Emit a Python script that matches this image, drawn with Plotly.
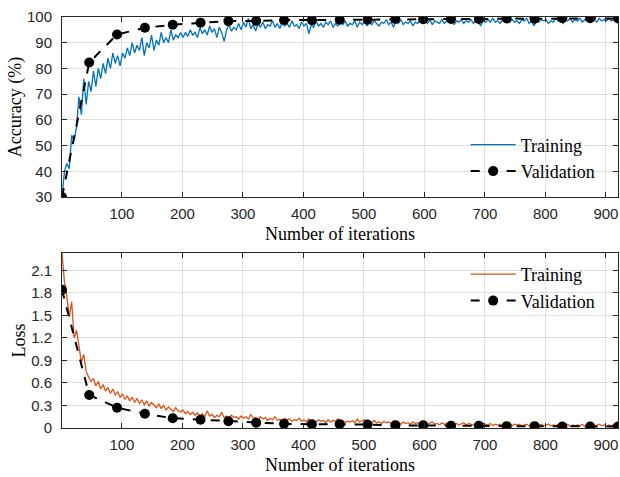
import plotly.graph_objects as go

# ---- data ----
train_acc = [
    30, 40, 43, 41, 54, 52, 57, 69, 62, 76, 66, 75, 71, 79, 73, 80, 76, 82, 78, 84, 80, 86, 82, 85, 81,
    86, 84, 88, 85, 90, 86, 89, 87, 92, 85, 90, 88, 93, 87, 91, 89, 94, 90, 92, 90, 95, 91, 93, 92, 94,
    92, 94, 92.5, 95, 93, 94, 92, 96, 93.5, 95, 93, 96.5, 94, 95.5, 92, 96, 94, 90.5, 95, 97, 94.5, 96, 95, 97.5, 95,
    98, 96, 99.5, 95.5, 97, 94.5, 97.5, 96, 98, 95.5, 97, 96.5, 98.5, 96, 97.5, 95.5, 98, 96.5, 97.5, 96, 98.5, 96.5, 97, 95.5, 98,
    96.5, 97.5, 93.5, 97, 96, 98.5, 96.5, 97.5, 96, 98, 97, 98.5, 96, 97.5, 96.5, 98, 97, 98.5, 96.5, 97.5, 97, 98.5, 96, 98, 97,
    98.5, 96.5, 98, 97, 98.5, 97.5, 96.5, 98, 97.5, 99, 97, 98, 96, 98.5, 97.5, 99, 97, 98, 97.5, 98.5, 96.5, 98, 97.5, 99, 97.5,
    98.5, 97.5, 99, 97, 98.5, 98, 97.5, 99, 97.5, 98.5, 98, 99, 97, 98.5, 98, 99, 97.5, 98.5, 98, 99, 97.5, 98.5, 98, 96.5, 98.5,
    98, 99, 98, 99.5, 98, 98.5, 97.5, 99, 98.5, 99.5, 98, 99, 98, 98.5, 97.5, 99, 98.5, 99.5, 97.5, 98.5, 96.5, 98.5, 98, 99, 98.5,
    99, 97.5, 98.5, 98, 99.5, 98.5, 99, 97.5, 99, 98.5, 99.5, 98, 99, 98.5, 99.5, 98, 99, 98.5, 99.5, 98.5, 99, 98, 99.5, 98.5, 99,
    98.5, 99.5, 98.5, 99, 99.5,
]
train_loss = [
    2.33, 1.95, 1.75, 1.48, 1.68, 1.2, 1.3, 1.08, 0.88, 0.98, 0.75, 0.68, 0.62, 0.66, 0.56, 0.62, 0.52, 0.58, 0.49, 0.54, 0.46, 0.52, 0.44, 0.48, 0.41,
    0.45, 0.38, 0.43, 0.36, 0.41, 0.34, 0.39, 0.33, 0.37, 0.31, 0.36, 0.29, 0.34, 0.3, 0.27, 0.32, 0.26, 0.3, 0.24, 0.28, 0.25, 0.22, 0.27, 0.23, 0.21,
    0.24, 0.19, 0.22, 0.18, 0.21, 0.17, 0.2, 0.16, 0.19, 0.15, 0.23, 0.16, 0.18, 0.14, 0.17, 0.15, 0.21, 0.14, 0.16, 0.13, 0.17, 0.14, 0.15, 0.12, 0.16,
    0.13, 0.15, 0.12, 0.18, 0.13, 0.14, 0.11, 0.15, 0.12, 0.14, 0.1, 0.13, 0.11, 0.15, 0.1, 0.12, 0.09, 0.13, 0.11, 0.12, 0.09, 0.11, 0.1, 0.13, 0.09,
    0.11, 0.08, 0.12, 0.09, 0.1, 0.08, 0.11, 0.09, 0.1, 0.07, 0.11, 0.08, 0.1, 0.09, 0.12, 0.08, 0.1, 0.07, 0.09, 0.08, 0.1, 0.07, 0.12, 0.08, 0.09,
    0.11, 0.08, 0.09, 0.07, 0.1, 0.07, 0.08, 0.06, 0.09, 0.07, 0.08, 0.06, 0.09, 0.07, 0.08, 0.05, 0.08, 0.06, 0.07, 0.05, 0.08, 0.06, 0.07, 0.05, 0.06,
    0.07, 0.05, 0.06, 0.08, 0.05, 0.06, 0.04, 0.07, 0.05, 0.06, 0.04, 0.07, 0.05, 0.06, 0.04, 0.05, 0.07, 0.04, 0.06, 0.05, 0.04, 0.06, 0.05, 0.04, 0.06,
    0.05, 0.04, 0.06, 0.03, 0.05, 0.04, 0.05, 0.03, 0.05, 0.04, 0.06, 0.03, 0.05, 0.04, 0.05, 0.03, 0.04, 0.05, 0.03, 0.04, 0.06, 0.03, 0.04, 0.05, 0.03,
    0.04, 0.05, 0.03, 0.04, 0.03, 0.05, 0.03, 0.04, 0.03, 0.05, 0.02, 0.04, 0.03, 0.04, 0.03, 0.05, 0.02, 0.04, 0.03, 0.04, 0.02, 0.03, 0.05, 0.03, 0.04,
    0.02, 0.04, 0.03, 0.05, 0.03,
]
val_iter = [1, 46, 92, 138, 184, 230, 276, 322, 368, 414, 460, 506, 552, 598, 644, 690, 736, 782, 828, 874, 920]
val_acc = [30, 82.3, 93.2, 95.8, 97.0, 97.8, 98.4, 98.5, 98.8, 98.8, 98.9, 98.9, 99.2, 99.1, 99.2, 99.2, 99.4, 99.3, 99.5, 99.5, 99.4]
val_loss = [1.84, 0.44, 0.27, 0.19, 0.13, 0.11, 0.09, 0.07, 0.055, 0.05, 0.05, 0.045, 0.035, 0.035, 0.03, 0.03, 0.025, 0.025, 0.02, 0.02, 0.02]
x_ticks = [100, 200, 300, 400, 500, 600, 700, 800, 900]
acc_ticks = [30, 40, 50, 60, 70, 80, 90, 100]
loss_ticks = [0, 0.3, 0.6, 0.9, 1.2, 1.5, 1.8, 2.1]

step = 4
acc_iter = [1 + step * k for k in range(len(train_acc))]
loss_iter = [1 + step * k for k in range(len(train_loss))]

BLUE = "#0072BD"
ORANGE = "#D95319"
AX = "#262626"
GRID = "#dfdfdf"
SERIF = "Liberation Serif"
SANS = "Liberation Sans"

fig = go.Figure()
fig.add_trace(go.Scatter(x=acc_iter, y=train_acc, mode="lines", name="Training",
                         line=dict(color=BLUE, width=1.3), xaxis="x", yaxis="y", legend="legend"))
fig.add_trace(go.Scatter(x=val_iter, y=val_acc, mode="lines+markers", name="Validation",
                         line=dict(color="black", width=2, dash="dash"),
                         marker=dict(color="black", size=10), xaxis="x", yaxis="y", legend="legend"))
fig.add_trace(go.Scatter(x=loss_iter, y=train_loss, mode="lines", name="Training",
                         line=dict(color=ORANGE, width=1.3), xaxis="x2", yaxis="y2", legend="legend2"))
fig.add_trace(go.Scatter(x=val_iter, y=val_loss, mode="lines+markers", name="Validation",
                         line=dict(color="black", width=2, dash="dash"),
                         marker=dict(color="black", size=10), xaxis="x2", yaxis="y2", legend="legend2"))

common_axis = dict(showline=True, linecolor=AX, linewidth=1, mirror="ticks", ticks="inside",
                   ticklen=5, tickcolor=AX, showgrid=True, gridcolor=GRID, gridwidth=1, zeroline=False,
                   tickfont=dict(family=SANS, size=15, color=AX))

TITLE_FONT = dict(family=SERIF, size=18, color="black")
LEG_FONT = dict(family=SERIF, size=18, color="black")

xcommon = dict(common_axis, range=[1, 920], tickvals=x_ticks, ticklabelstandoff=3,
               title=dict(text="Number of iterations", font=TITLE_FONT, standoff=6))

fig.update_layout(
    width=620, height=477,
    margin=dict(l=62, r=2, t=17, b=49, autoexpand=False),
    paper_bgcolor="white", plot_bgcolor="white",
    xaxis=dict(xcommon, anchor="y", domain=[0, 1]),
    yaxis=dict(common_axis, range=[30, 100], tickvals=acc_ticks, domain=[0.562, 1], anchor="x",
               ticklabelstandoff=6,
               title=dict(text="Accuracy (%)", font=TITLE_FONT, standoff=0)),
    xaxis2=dict(xcommon, anchor="y2", domain=[0, 1]),
    yaxis2=dict(common_axis, range=[0, 2.33], tickvals=loss_ticks, domain=[0, 0.4258], anchor="x2",
                ticklabelstandoff=6,
                title=dict(text="Loss", font=TITLE_FONT, standoff=0)),
    legend=dict(x=0.726, y=0.7336, xanchor="left", yanchor="top", bgcolor="rgba(0,0,0,0)",
                font=LEG_FONT, itemwidth=45, tracegroupgap=0),
    legend2=dict(x=0.726, y=0.4185, xanchor="left", yanchor="top", bgcolor="rgba(0,0,0,0)",
                 font=LEG_FONT, itemwidth=45, tracegroupgap=0),
)

# remove the browser's default 8px page margin so the figure fills the 620x477 window exactly
fig.write_html("out.html", config={"displayModeBar": False},
               post_script="document.body.style.margin='0';document.documentElement.style.overflow='hidden';")
